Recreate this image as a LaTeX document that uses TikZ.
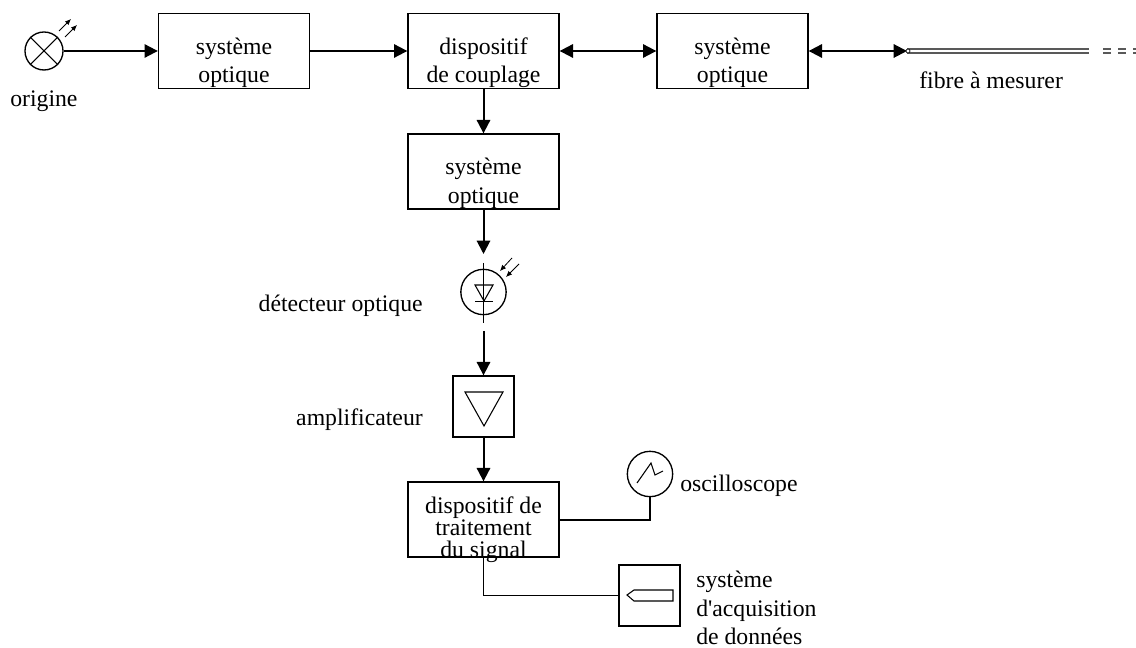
\documentclass[tikz,border=0pt]{standalone}
\usepackage{fontspec}
\setmainfont[Ligatures=TeXOff]{Liberation Serif}
\usetikzlibrary{arrows.meta}

\tikzset{
    block/.style={draw, line width=1pt, rectangle, minimum width=113.25pt, minimum height=56.25pt, inner sep=0pt},
    smallblock/.style={draw, line width=1pt, rectangle, minimum size=45.75pt, inner sep=0pt},
    dial/.style={draw, line width=1pt, circle, inner sep=0pt},
    flow/.style={->, line width=1.5pt},
    wire/.style={line width=1pt},
    ray/.style={-{Latex[length=4.5pt,width=4pt]}, line width=.6pt},
    glyph/.style={line width=.8pt},
    fibre/.style={line width=1pt, black!65},
    label/.style={inner sep=0pt}
}

\begin{document}
\begin{tikzpicture}[x=.75pt, y=-.75pt, >/.tip={Triangle[length=10pt,width=10pt]}, font=\fontsize{17.8}{21}\selectfont]
    \useasboundingbox (0,0) rectangle (1136,648);

    \node [dial, minimum size=28.5pt] (source) at (44,51) {};
    \node [block] (optA) at (234,51) {};
    \node [block] (coupler) at (483.5,51) {};
    \node [block] (optB) at (732.5,51) {};
    \node [block] (optC) at (483.5,171.5) {};
    \node [dial, minimum size=34pt] (detector) at (483.5,292) {};
    \node [smallblock] (amp) at (483.5,406.5) {};
    \node [block] (process) at (483.5,519.5) {};
    \node [dial, minimum size=34pt] (scope) at (650,474) {};
    \node [smallblock] (acq) at (649.5,595.5) {};

    \coordinate (fibreIn) at (907,51);
    \coordinate (fibreEnd) at (1089,51);
    \coordinate (dashA) at (1103,51);
    \coordinate (dashB) at (1136,51);
    \coordinate (detIn) at (483.5,254);
    \coordinate (detOut) at (483.5,331);
    \coordinate (detTop) at (483.5,263);
    \coordinate (detEnd) at (483.5,323);
    \coordinate (scopeTurn) at (650,520);
    \coordinate (acqTurn) at (483.5,595.5);

    \draw [flow] (source) -- (optA);
    \draw [flow] (optA) -- (coupler);
    \draw [flow, <->] (coupler) -- (optB);
    \draw [flow, <->] (optB.east) -- (fibreIn);
    \draw [flow] (coupler) -- (optC);
    \draw [flow] (optC) -- (detIn);
    \draw [flow] (detOut) -- (amp);
    \draw [flow] (amp) -- (process);
    \draw [wire] (process.east |- scopeTurn) -- (scopeTurn) -- (scope);
    \draw [wire] (process.south) -- (acqTurn) -- (acq);

    % fibre
    \foreach \dy in {-2,2} {
        \draw [fibre] ([yshift=\dy*.75pt]fibreIn) -- ([yshift=\dy*.75pt]fibreEnd);
        \draw [fibre, dash pattern=on 6pt off 5.25pt] ([yshift=\dy*.75pt]dashA) -- ([yshift=\dy*.75pt]dashB);
    }
    \node [draw, circle, line width=.5pt, fill=white, minimum size=3pt, inner sep=0pt] (fibreTip) at (908,51) {};

    % source lamp
    \draw [glyph] (source.north west) -- (source.south east);
    \draw [glyph] (source.south west) -- (source.north east);
    \draw [ray] (59,31) -- (71,19);
    \draw [ray] (65,37) -- (77,25);

    % detector
    \draw [line width=1.2pt] (detTop) -- (detEnd);
    \draw [glyph] (475,285) -- (493,285) -- (484,301) -- cycle;
    \draw [line width=1.2pt] (475,301.5) -- (493,301.5);
    \draw [ray] (512,258) -- (500,271);
    \draw [ray] (519,264) -- (506,277);

    % amplifier, scope trace, recorder pen
    \draw [glyph] (465,392) -- (503,392) -- (484,426) -- cycle;
    \draw [glyph] (637,483) -- (651,463) -- (655,475) -- (663,471);
    \draw [glyph] (627,595) -- (634,590) -- (673,590) -- (673,601) -- (634,601) -- cycle;

    % centred lines, by baseline
    \foreach \name/\x/\y/\txt in {
        a1/234/54.5/système, a2/234/83/optique,
        b1/483.5/54.5/dispositif, b2/483.5/83/de couplage,
        c1/732.5/54.5/système, c2/732.5/83/optique,
        d1/483.5/175/système, d2/483.5/204/optique,
        e1/483.5/513/dispositif de, e2/483.5/536/traitement, e3/483.5/557/du signal} {
        \node [label, anchor=base] (\name) at (\x,\y) {\txt};
    }
    \node [label, anchor=base west] (origin) at (10,107) {origine};
    \node [label, anchor=base west] (fibreName) at (919,89) {fibre à mesurer};
    \node [label, anchor=base east] (detName) at (423,312) {détecteur optique};
    \node [label, anchor=base east] (ampName) at (423,426) {amplificateur};
    \node [label, anchor=base west] (scopeName) at (680,492) {oscilloscope};
    \node [label, anchor=base west] (acq1) at (696,587) {système};
    \node [label, anchor=base west] (acq2) at (696,616) {d'acquisition};
    \node [label, anchor=base west] (acq3) at (696,644) {de données};
\end{tikzpicture}
\end{document}
